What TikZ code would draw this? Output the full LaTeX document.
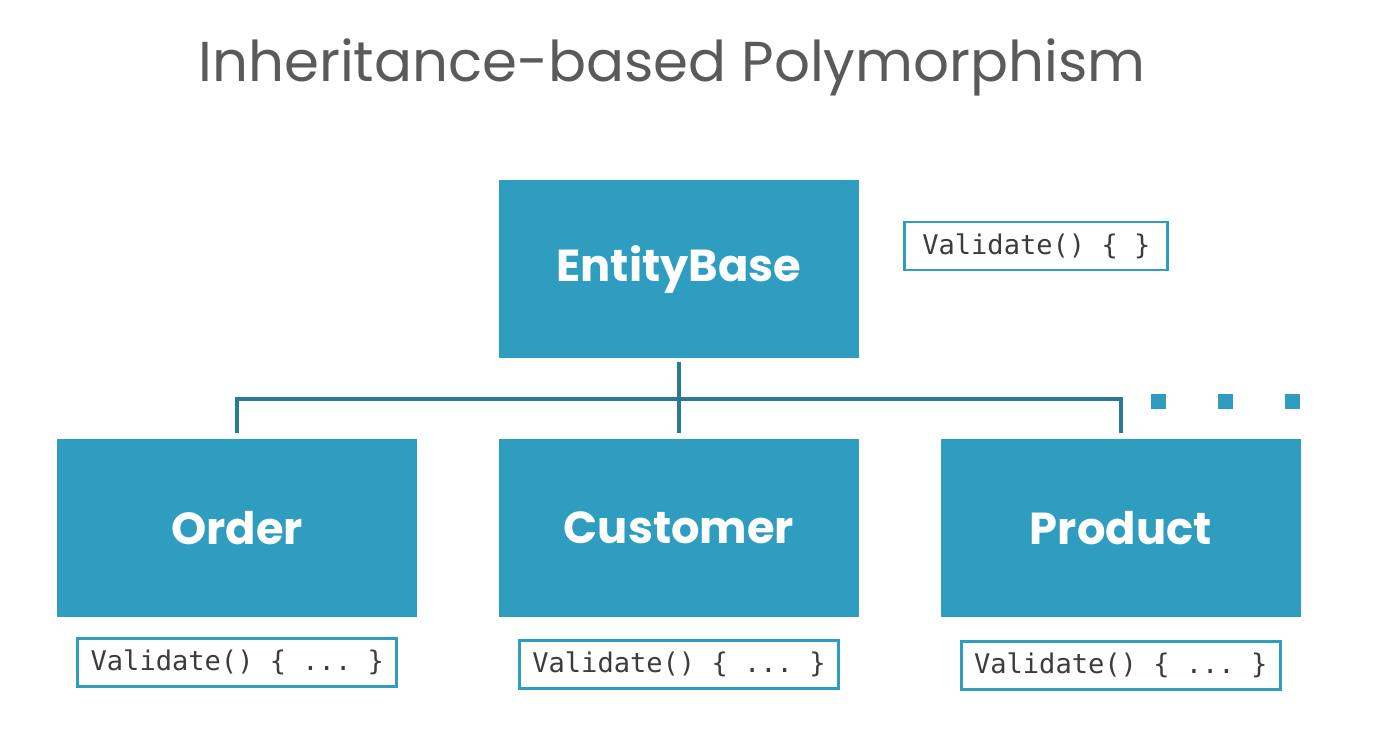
\documentclass[tikz,border=0pt]{standalone}
\usepackage{fontspec}
\setmainfont{Poppins}
\setmonofont{DejaVu Sans Mono}
\usepackage{tikz}
\usetikzlibrary{positioning,calc}
\definecolor{boxblue}{HTML}{2E9DBF}
\definecolor{linkteal}{HTML}{2A7B92}
\definecolor{codegray}{HTML}{3C3C3C}
\definecolor{titlegray}{HTML}{5A5A5A}

\begin{document}
\begin{tikzpicture}[
  cls/.style={rectangle, fill=boxblue, minimum width=7.2cm, minimum height=3.56cm,
              inner sep=0pt, align=center, font=\fontsize{25.5}{30}\selectfont\bfseries, text=white},
  code/.style={rectangle, draw=boxblue, line width=1.7pt, fill=white, minimum height=0.96cm,
               inner sep=0pt, align=left, font=\fontsize{15.4}{18}\selectfont\ttfamily, text=codegray},
  link/.style={draw=linkteal, line width=2.2pt},
  more/.style={rectangle, fill=boxblue, minimum size=0.3cm, inner sep=0pt}
]
  \useasboundingbox (0,0) rectangle (27.62,14.68);
  \fill[white] (0,0) rectangle (27.62,14.68);

  \node[font=\fontsize{32}{40}\selectfont, text=titlegray] (title) at (13.44,13.34)
    {Inheritance-based Polymorphism};

  \node[cls] (base) at (13.58,9.30) {EntityBase};
  \node[cls,below=1.6cm of base] (customer) {Customer};
  \node[cls,left=1.62cm of customer] (order) {Order};
  \node[cls,right=1.62cm of customer] (product) {Product};

  \node[code,minimum width=5.26cm,right=0.88cm of base,yshift=0.46cm] (basecode) {Validate() \{ \}};
  \node[code,minimum width=6.38cm,below=0.4cm of order] (ordercode) {Validate() \{ ... \}};
  \node[code,minimum width=6.38cm,below=0.44cm of customer] (customercode) {Validate() \{ ... \}};
  \node[code,minimum width=6.38cm,below=0.46cm of product] (productcode) {Validate() \{ ... \}};

  % hierarchy lines
  \coordinate (bus) at ($(customer.north)+(0,0.78)$);
  \draw[link] ([yshift=-0.08cm]base.south) -- ([yshift=0.1cm]customer.north);
  \draw[link] ([yshift=0.1cm]order.north) |- (bus) -| ([yshift=0.1cm]product.north);

  % more subclasses
  \node[more] (more1) at (23.16,6.66) {};
  \node[more,right=1.04cm of more1] (more2) {};
  \node[more,right=1.02cm of more2] (more3) {};
\end{tikzpicture}
\end{document}
